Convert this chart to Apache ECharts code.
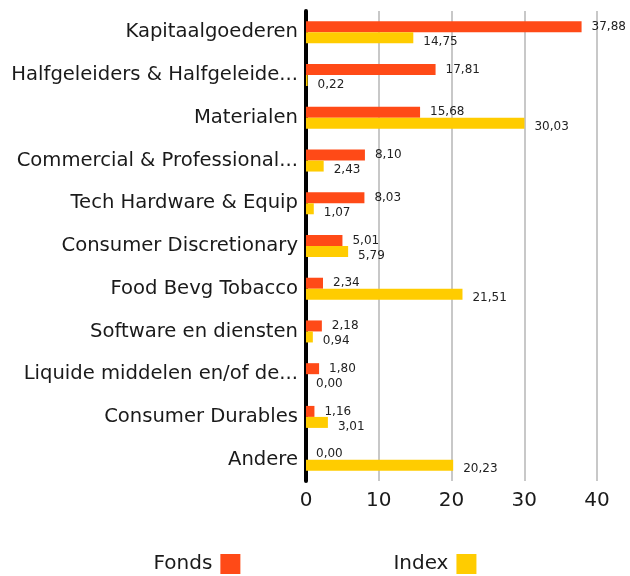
<!DOCTYPE html>
<html>
<head>
<meta charset="utf-8">
<script src="https://cdn.jsdelivr.net/npm/echarts@6/dist/echarts.min.js"></script>
<style>html,body{margin:0;padding:0;background:#fff}#c{width:630px;height:576px}</style>
</head>
<body>
<div id="c"></div>
<script>
const categories = ["Kapitaalgoederen","Halfgeleiders & Halfgeleide...","Materialen","Commercial & Professional...","Tech Hardware & Equip","Consumer Discretionary","Food Bevg Tobacco","Software en diensten","Liquide middelen en/of de...","Consumer Durables","Andere"];
const fonds = [37.88,17.81,15.68,8.10,8.03,5.01,2.34,2.18,1.80,1.16,0.00];
const index = [14.75,0.22,30.03,2.43,1.07,5.79,21.51,0.94,0.00,3.01,20.23];
const xTicks = [0,10,20,30,40];
const FONT = "DejaVu Sans";
const fmt = p => p.value.toFixed(2).replace('.', ',');
const chart = echarts.init(document.getElementById('c'));
chart.setOption({
  animation: false,
  textStyle: {fontFamily: FONT},
  grid: {left: 306, right: 33, top: 11, bottom: 95, containLabel: false},
  legend: {
    top: 549, left: 'center', align: 'right', itemWidth: 20, itemHeight: 20, itemGap: 153,
    icon: 'rect',
    textStyle: {fontSize: 20, color: '#1a1a1a', fontFamily: FONT, padding: [0, 3, 0, 0]},
    data: ['Fonds','Index']
  },
  xAxis: {
    type: 'value', min: xTicks[0], max: xTicks[xTicks.length-1], interval: 10,
    axisLine: {show: false}, axisTick: {show: false},
    axisLabel: {fontSize: 20, color: '#1a1a1a', margin: 10, fontFamily: FONT},
    splitLine: {lineStyle: {color: '#c8c8c8', width: 2}}
  },
  yAxis: {
    type: 'category', data: categories, inverse: true,
    axisLine: {lineStyle: {color: '#000', width: 4}},
    axisTick: {show: false},
    axisLabel: {fontSize: 19.6, color: '#1a1a1a', margin: 8, fontFamily: FONT}
  },
  series: [
    {name: 'Fonds', type: 'bar', data: fonds, barWidth: 11, barGap: '0%',
     itemStyle: {color: '#ff4a17'},
     label: {show: true, position: 'right', distance: 10, fontSize: 12, color: '#222', formatter: fmt, fontFamily: FONT}},
    {name: 'Index', type: 'bar', data: index, barWidth: 11, barGap: '0%',
     itemStyle: {color: '#ffcc00'},
     label: {show: true, position: 'right', distance: 10, offset: [0, 4], fontSize: 12, color: '#222', formatter: fmt, fontFamily: FONT}}
  ]
});
</script>
</body>
</html>
